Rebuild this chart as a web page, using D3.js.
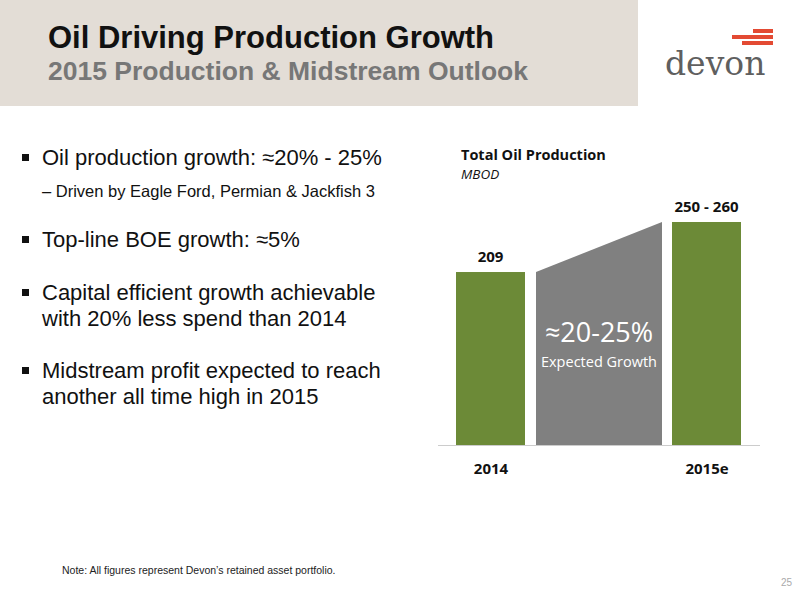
<!DOCTYPE html>
<html>
<head>
<script src="https://d3js.org/d3.v7.min.js"></script>
<style>body{margin:0}</style>
</head>
<body>
<script>
var categories = ['2014', '2015e'];
var values = [209, 260];
var labels = ['209', '250 - 260'];
var bullets = [
  {t: 'Oil production growth: \u224820% - 25%', sub: 'Driven by Eagle Ford, Permian & Jackfish 3'},
  {t: 'Top-line BOE growth: \u22485%'},
  {t: 'Capital efficient growth achievable', t2: 'with 20% less spend than 2014'},
  {t: 'Midstream profit expected to reach', t2: 'another all time high in 2015'}
];

var svg = d3.select('body').append('svg').attr('width', 800).attr('height', 600);
var f = 'Liberation Sans, Arial, sans-serif';
var cal = 'Open Sans, sans-serif';

// header
svg.append('rect').attr('width', 638).attr('height', 106).attr('fill', '#e3ddd6');
svg.append('text').attr('x', 48).attr('y', 48).text('Oil Driving Production Growth')
  .attr('font-family', f).attr('font-weight', 'bold').attr('font-size', 31).attr('fill', '#111');
svg.append('text').attr('x', 48).attr('y', 80).text('2015 Production & Midstream Outlook')
  .attr('font-family', f).attr('font-weight', 'bold').attr('font-size', 26.5).attr('fill', '#777');
// logo
svg.append('text').attr('x', 665).attr('y', 75).text('devon')
  .attr('font-family', 'DejaVu Serif, serif').attr('font-size', 33).attr('fill', '#5f5f5f');
svg.append('rect').attr('x', 753).attr('y', 29).attr('width', 20).attr('height', 4).attr('fill', '#e34a33');
svg.append('rect').attr('x', 732).attr('y', 35).attr('width', 41).attr('height', 4).attr('fill', '#e34a33');
svg.append('rect').attr('x', 742).attr('y', 41).attr('width', 31).attr('height', 4).attr('fill', '#e34a33');

// bullets
var by = [165, 247, 300, 378];
bullets.forEach(function(b, i) {
  svg.append('rect').attr('x', 22).attr('y', by[i] - 11).attr('width', 7).attr('height', 7).attr('fill', '#111');
  svg.append('text').attr('x', 42).attr('y', by[i]).text(b.t)
    .attr('font-family', f).attr('font-size', 22).attr('fill', '#111');
  if (b.t2) svg.append('text').attr('x', 42).attr('y', by[i] + 26).text(b.t2)
    .attr('font-family', f).attr('font-size', 22).attr('fill', '#111');
  if (b.sub) svg.append('text').attr('x', 42).attr('y', by[i] + 32).text('\u2013 ' + b.sub)
    .attr('font-family', f).attr('font-size', 16.5).attr('fill', '#111');
});

// chart
var x = d3.scalePoint().domain(categories).range([490.5, 706.5]);
var bw = 69;
var y = d3.scaleLinear().domain([0, 260]).range([477, 222]);
var base = 445;

svg.append('text').attr('x', 461).attr('y', 160).text('Total Oil Production')
  .attr('font-family', cal).attr('font-weight', 'bold').attr('font-size', 14.5).attr('fill', '#111');
svg.append('text').attr('x', 461).attr('y', 179).text('MBOD')
  .attr('font-family', cal).attr('font-style', 'italic').attr('font-size', 13.5).attr('fill', '#111');

var x0 = x('2014') + bw / 2 + 11, x1 = x('2015e') - bw / 2 - 10;
svg.append('path')
  .attr('d', 'M' + x0 + ',' + base + 'L' + x0 + ',' + y(values[0]) + 'L' + x1 + ',' + y(values[1]) + 'L' + x1 + ',' + base + 'Z')
  .attr('fill', '#808080');
svg.append('text').attr('x', (x0 + x1) / 2).attr('y', 342).attr('text-anchor', 'middle').text('\u224820-25%')
  .attr('font-family', cal).attr('font-size', 27).attr('fill', '#fff');
svg.append('text').attr('x', (x0 + x1) / 2).attr('y', 367).attr('text-anchor', 'middle').text('Expected Growth')
  .attr('font-family', cal).attr('font-size', 14.5).attr('fill', '#fff');

svg.selectAll('rect.bar').data(values).join('rect').attr('class', 'bar')
  .attr('x', function(d, i) { return x(categories[i]) - bw / 2; })
  .attr('y', function(d) { return y(d); })
  .attr('width', bw)
  .attr('height', function(d) { return base - y(d); })
  .attr('fill', '#6c8a37');
svg.selectAll('text.val').data(values).join('text').attr('class', 'val')
  .attr('x', function(d, i) { return x(categories[i]); })
  .attr('y', function(d) { return y(d) - 10; })
  .attr('text-anchor', 'middle').text(function(d, i) { return labels[i]; })
  .attr('font-family', cal).attr('font-weight', 'bold').attr('font-size', 15).attr('fill', '#111');

var ax = svg.append('g').attr('transform', 'translate(0,' + base + ')')
  .call(d3.axisBottom(x).tickSize(0).tickPadding(18));
ax.select('.domain').attr('stroke', '#ccc').attr('d', 'M438,0.5H760');
ax.selectAll('text').attr('font-family', cal).attr('font-weight', 'bold').attr('font-size', 15).attr('fill', '#111');

svg.append('text').attr('x', 62).attr('y', 574).text('Note: All figures represent Devon\u2019s retained asset portfolio.')
  .attr('font-family', f).attr('font-size', 10.5).attr('fill', '#222');
svg.append('text').attr('x', 792).attr('y', 586).attr('text-anchor', 'end').text('25')
  .attr('font-family', f).attr('font-size', 10).attr('fill', '#aaa');
</script>
</body>
</html>
